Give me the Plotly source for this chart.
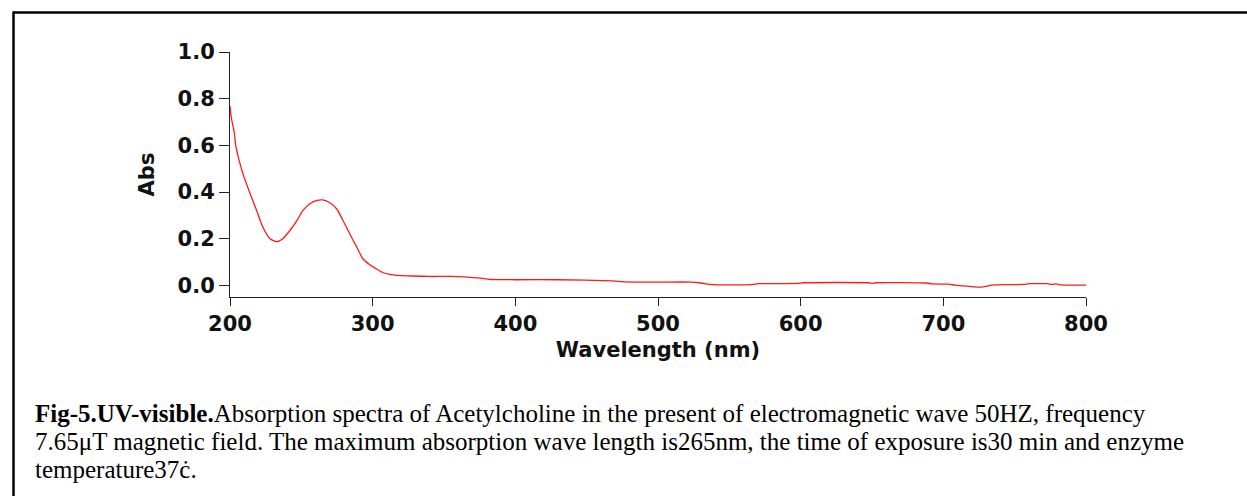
import plotly.graph_objects as go

# Data
wavelength = [200, 201, 203, 204, 206, 209, 214, 219, 223, 228, 233, 237, 242, 247, 251,
              256, 261, 265, 270, 275, 279, 284, 289, 293, 298, 303, 307, 312, 317, 328,
              340, 355, 368, 377, 383, 400, 430, 468, 477, 500, 523, 530, 538, 566, 570,
              598, 602, 648, 650, 653, 688, 692, 704, 708, 713, 726, 732, 735, 757, 760,
              773, 776, 779, 782, 800]
absorbance = [0.768, 0.715, 0.655, 0.600, 0.545, 0.480, 0.395, 0.315, 0.250, 0.200, 0.187,
              0.200, 0.235, 0.278, 0.320, 0.350, 0.364, 0.366, 0.354, 0.326, 0.280, 0.220,
              0.162, 0.115, 0.088, 0.069, 0.055, 0.047, 0.043, 0.040, 0.038, 0.038, 0.034,
              0.030, 0.025, 0.024, 0.024, 0.019, 0.015, 0.014, 0.014, 0.010, 0.003, 0.003,
              0.007, 0.008, 0.011, 0.011, 0.008, 0.011, 0.010, 0.006, 0.005, 0.001, -0.002,
              -0.008, -0.002, 0.002, 0.004, 0.007, 0.007, 0.004, 0.006, 0.002, 0.001]

x_ticks = [200, 300, 400, 500, 600, 700, 800]
y_ticks = [0.0, 0.2, 0.4, 0.6, 0.8, 1.0]
y_ticklabels = ["0.0", "0.2", "0.4", "0.6", "0.8", "1.0"]

caption_lines = [
    "<b>Fig-5.UV-visible.</b>Absorption spectra of Acetylcholine in the present of electromagnetic wave 50HZ, frequency",
    "7.65\u03bcT magnetic field. The maximum absorption wave length is265nm, the time of exposure is30 min and enzyme",
    "temperature37\u010b.",
]

W, H = 1247, 496
L, R, T, B = 230, 1086, 52, 297
pw, ph = R - L, B - T

def px(x):
    return (x - L) / pw

def py(y):
    return (B - y) / ph

fig = go.Figure()
fig.add_trace(go.Scatter(x=wavelength, y=absorbance, mode="lines",
                         line=dict(color="#ff1a1a", width=1.3, shape="spline", smoothing=0.5),
                         showlegend=False))

axfont = dict(family="DejaVu Sans", size=21, color="#111111", weight="bold")

fig.update_layout(
    width=W, height=H,
    margin=dict(l=L, r=W - R, t=T, b=H - B, pad=0),
    paper_bgcolor="white", plot_bgcolor="white",
    xaxis=dict(range=[200, 800], tickvals=x_ticks, ticks="outside", ticklen=8,
               tickwidth=1, tickcolor="#222", showline=True, linecolor="#222", linewidth=1,
               showgrid=False, zeroline=False, tickfont=axfont,
               title=dict(text="Wavelength (nm)", font=axfont, standoff=7)),
    yaxis=dict(range=[-0.05, 1.0], tickvals=y_ticks, ticktext=y_ticklabels, ticks="outside",
               ticklen=10, tickwidth=1, tickcolor="#222", showline=True, linecolor="#222",
               linewidth=1, showgrid=False, zeroline=False, tickfont=axfont,
               title=dict(text="Abs", font=axfont, standoff=17)),
)

# Frame (top and left edges)
fig.add_shape(type="line", xref="paper", yref="paper",
              x0=px(13), x1=px(W + 5), y0=py(12.5), y1=py(12.5),
              line=dict(color="black", width=2.5))
fig.add_shape(type="line", xref="paper", yref="paper",
              x0=px(13.5), x1=px(13.5), y0=py(11.5), y1=py(H + 5),
              line=dict(color="black", width=2.5))

cap_y = [413.5, 441.5, 469]
for text, yy in zip(caption_lines, cap_y):
    fig.add_annotation(text=text, xref="paper", yref="paper", x=px(33), y=py(yy),
                       xanchor="left", yanchor="middle", showarrow=False, align="left",
                       font=dict(family="Liberation Serif", size=25, color="black"))

fig.write_html("out.html")
